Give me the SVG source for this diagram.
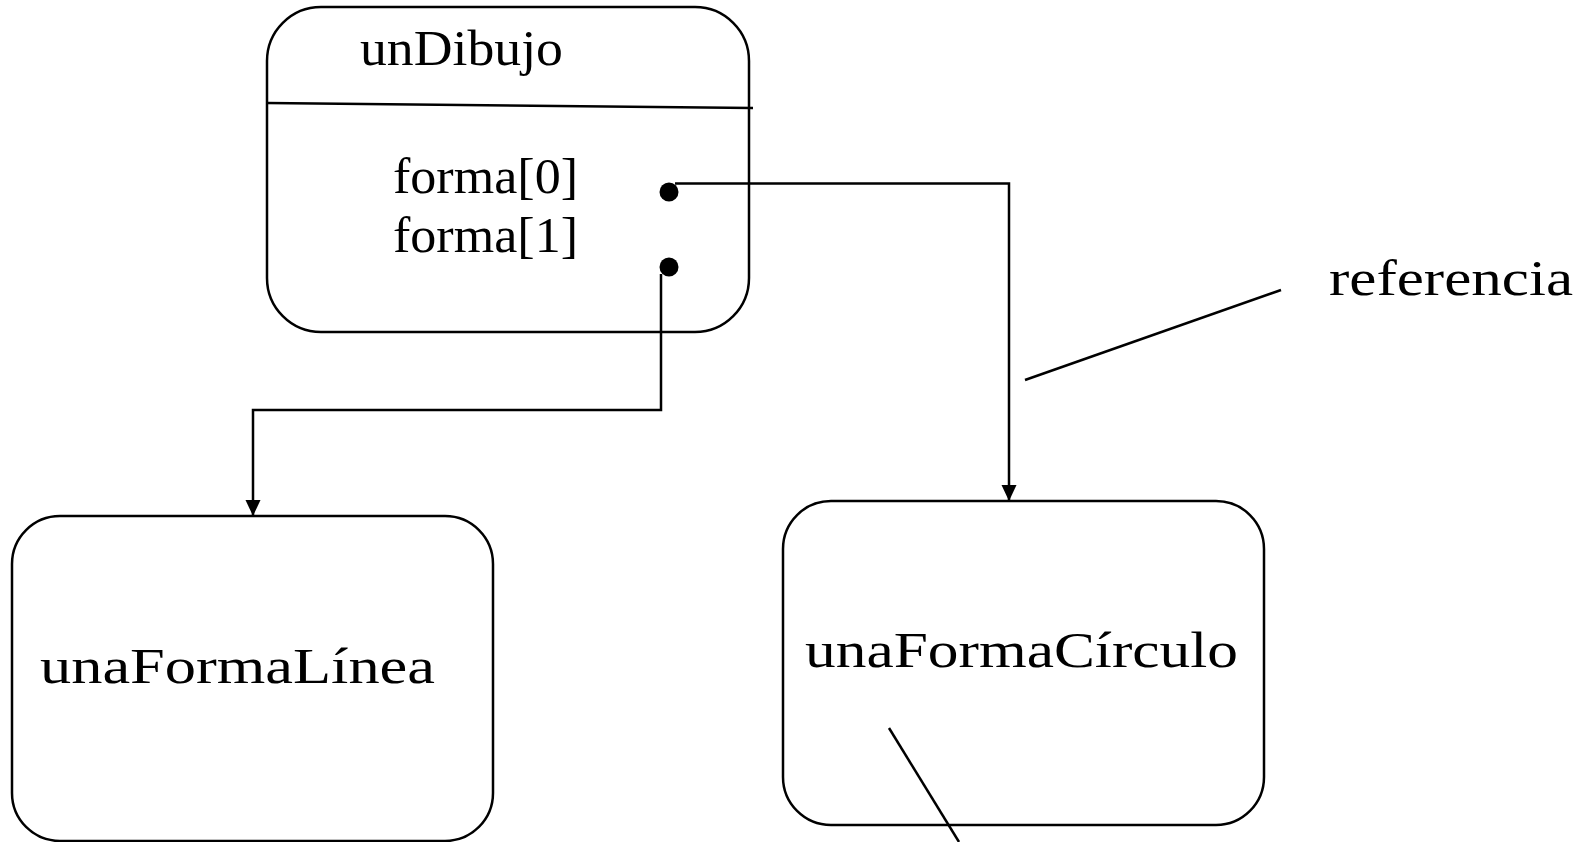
<svg xmlns="http://www.w3.org/2000/svg" width="1587" height="842" viewBox="0 0 1587 842">
<style>
.box{fill:#fff;stroke:#000;stroke-width:2.5}
.ln{fill:none;stroke:#000;stroke-width:2.5}
.t{font-family:"Liberation Serif","Times New Roman",serif;font-size:50px;fill:#000}
.tl{font-family:"Liberation Serif","Times New Roman",serif;font-size:51px;fill:#000}
</style>
<defs>
<marker id="arr" markerWidth="16" markerHeight="16" refX="16" refY="8" orient="auto" markerUnits="userSpaceOnUse" viewBox="0 0 16 16">
<path d="M0,0.5 L16,8 L0,15.5 Z" fill="#000"/>
</marker>
</defs>
<rect width="1587" height="842" fill="#fff"/>
<g id="unDibujo">
<rect class="box" x="267" y="7" width="482" height="325" rx="54" ry="54"/>
<line class="ln" x1="267" y1="103" x2="753" y2="108"/>
<text class="t" x="360" y="65" textLength="203" lengthAdjust="spacingAndGlyphs">unDibujo</text>
<text class="t" x="393" y="193" textLength="185" lengthAdjust="spacingAndGlyphs">forma[0]</text>
<text class="t" x="393" y="252" textLength="185" lengthAdjust="spacingAndGlyphs">forma[1]</text>
<circle cx="669" cy="192" r="9.5" fill="#000"/>
<circle cx="669" cy="267" r="9.5" fill="#000"/>
</g>
<g id="unaFormaLinea">
<rect class="box" x="12" y="516" width="481" height="325" rx="48" ry="48"/>
<text class="tl" x="40" y="683" textLength="395" lengthAdjust="spacingAndGlyphs">unaFormaLínea</text>
</g>
<g id="unaFormaCirculo">
<rect class="box" x="783" y="501" width="481" height="324" rx="48" ry="48"/>
<text class="tl" x="805" y="667" textLength="433" lengthAdjust="spacingAndGlyphs">unaFormaCírculo</text>
</g>
<g id="referencia">
<text class="tl" x="1329" y="295" textLength="244" lengthAdjust="spacingAndGlyphs">referencia</text>
</g>
<g id="connectors">
<polyline class="ln" points="675,183.5 1009,183.5 1009,501" marker-end="url(#arr)"/>
<polyline class="ln" points="661,274 661,410 253,410 253,516" marker-end="url(#arr)"/>
<line class="ln" x1="1025" y1="380" x2="1281" y2="290"/>
<line class="ln" x1="889" y1="728" x2="959" y2="842"/>
</g>
</svg>
